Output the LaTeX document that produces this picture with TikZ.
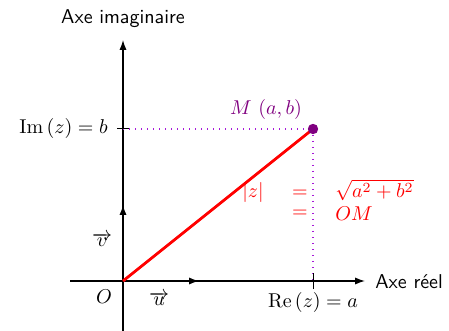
\documentclass[tikz,border=0pt]{standalone}
\usetikzlibrary{arrows.meta}
\definecolor{dotviolet}{rgb}{0.65,0.1,0.85}
\begin{document}
\begin{tikzpicture}[x=0.5pt,y=-0.5pt,
  axis/.style={line width=0.6pt,-{Latex[length=5pt,width=3.6pt]}},
  vec/.style={line width=0.7pt,-{Latex[length=5pt,width=3.6pt]}},
  guide/.style={dotviolet,line width=0.7pt,dash pattern=on 0.7pt off 2.3pt},
  tick/.style={line width=0.5pt},
  redtxt/.style={text=red,inner sep=0pt},
  lbl/.style={inner sep=0pt}]
\useasboundingbox (0,0) rectangle (449,331);
\coordinate (O) at (123,281);
\coordinate (ybot) at (123,331);
\coordinate (ytop) at (123,40);
\coordinate (xleft) at (70,281);
\coordinate (xright) at (365,281);
\coordinate (M) at (313,129);
\coordinate (Im) at (123,129);
\coordinate (Re) at (313,281);
\coordinate (ue) at (199,281);
\coordinate (ve) at (123,205);
% axes
\draw[axis] (ybot) -- (ytop);
\draw[axis] (xleft) -- (xright);
\node[lbl] (yl) at (123,19) {\sffamily Axe imaginaire};
\node[lbl,anchor=west] (xl) at (375,282) {\sffamily Axe r\'eel};
% unit vectors
\draw[vec] (O) -- (ue);
\draw[vec] (O) -- (ve);
\node[lbl] (vl) at (102,240) {$\overrightarrow{v}$};
\node[lbl] (ul) at (159,299) {$\overrightarrow{u}$};
\node[lbl] (Ol) at (104,297) {$O$};
% guides
\draw[guide] (Im) -- (M);
\draw[guide] (M) -- (Re);
% ticks
\draw[tick] ([xshift=-3pt]Im) -- ([xshift=3pt]Im);
\draw[tick] ([yshift=-4pt]Re) -- ([yshift=4pt]Re);
\node[lbl,anchor=east] (iml) at (108,129) {$\mathrm{Im}\left(z\right)=b$};
\node[lbl] (rel) at (313,302) {$\mathrm{Re}\left(z\right)=a$};
% segment
\draw[red,line width=1.4pt] (O) -- (M);
\fill[violet] (M) circle (2.6pt);
\node[lbl,text=violet] (Ml) at (266,110) {$M\ (a,b)$};
% modulus
\node[redtxt] (mz) at (253,193) {$|z|$};
\node[redtxt] (eq1) at (300,194) {$=$};
\node[redtxt,anchor=west] (sq) at (335,190) {$\sqrt{a^2+b^2}$};
\node[redtxt] (eq2) at (300,214) {$=$};
\node[redtxt,anchor=west] (om) at (335,214) {$OM$};
\end{tikzpicture}
\end{document}
